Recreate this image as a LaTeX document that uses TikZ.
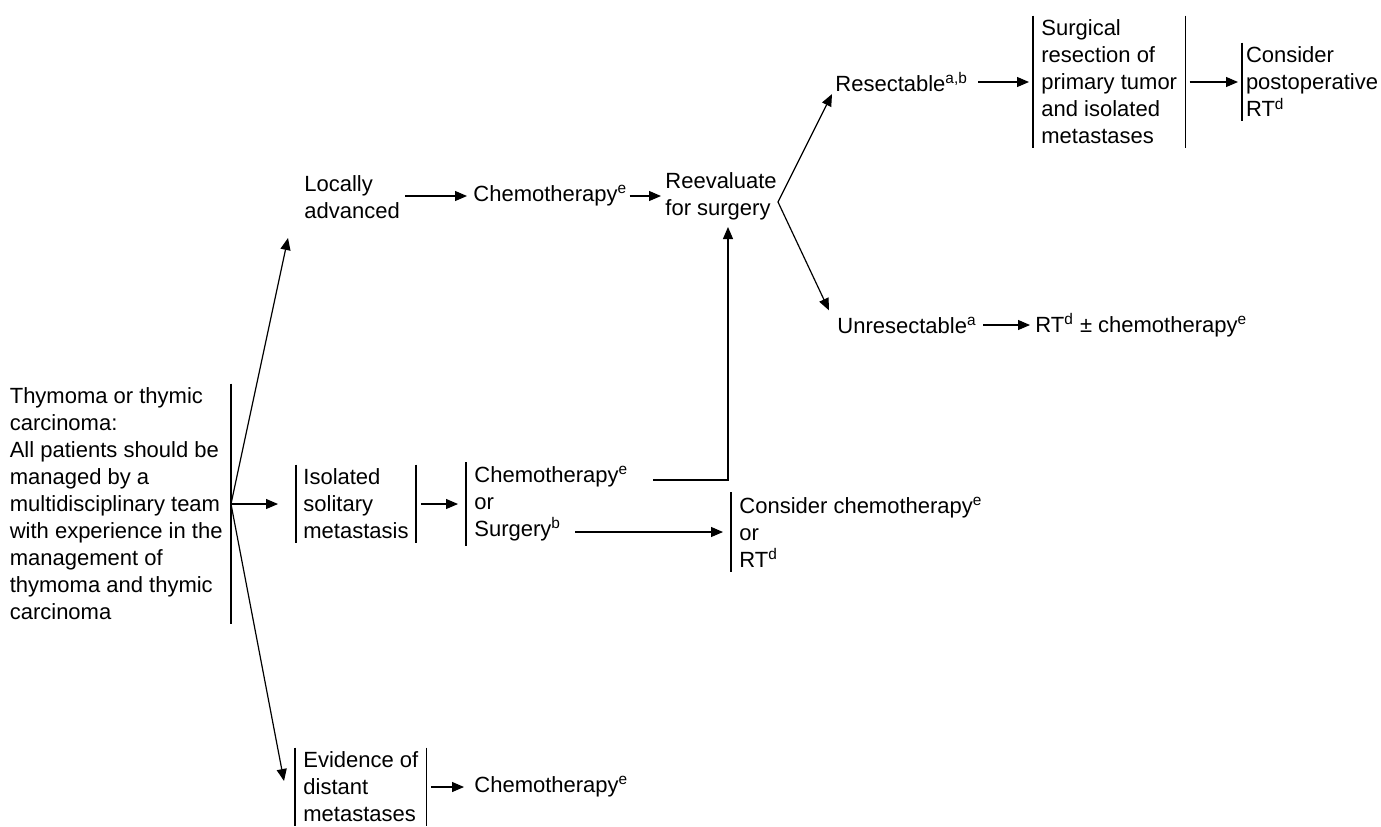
\documentclass[tikz,border=0pt]{standalone}
\usepackage{fontspec}
\setmainfont{Liberation Sans}
\usetikzlibrary{arrows.meta,positioning,calc}

\begin{document}
\begin{tikzpicture}[
    x=0.5pt, y=-0.5pt,
    every node/.style={font=\fontsize{11pt}{13.5pt}\selectfont},
    txt/.style={align=left, inner sep=0pt, anchor=west},
    barbox/.style={align=left, inner xsep=4pt, inner ysep=2pt},
    bar/.style={line width=0.6pt},
    arrow/.style={-{Triangle[length=6pt,width=5pt]}, line width=0.6pt}
]
\useasboundingbox (0,0) rectangle (1381,826);

% Start
\node[barbox, anchor=east] (root) at (231,504) {Thymoma or thymic\\carcinoma:\\All patients should be\\managed by a\\multidisciplinary team\\with experience in the\\management of\\thymoma and thymic\\carcinoma};
\draw[bar] (root.north east) -- (root.south east);

% Locally advanced branch
\node[txt] (locally) at (304,197) {Locally\\advanced};
\node[txt] (chemoA) at (473,196) {Chemotherapy\textsuperscript{e}};
\node[txt] (reeval) at (665,196) {Reevaluate\\for surgery};
\node[txt] (resect) at (835,82) {Resectable\textsuperscript{a,b}};
\node[barbox, anchor=west] (surg) at (1033,82) {Surgical\\resection of\\primary tumor\\and isolated\\metastases};
\draw[bar] (surg.north west) -- (surg.south west) (surg.north east) -- (surg.south east);
\node[barbox, anchor=west, inner xsep=1.8pt] (postop) at (1242,82) {Consider\\postoperative\\RT\textsuperscript{d}};
\draw[bar] (postop.north west) -- (postop.south west);
\node[txt] (unres) at (837,325) {Unresectable\textsuperscript{a}};
\node[txt] (rtchemo) at (1035,325) {RT\textsuperscript{d} ± chemotherapy\textsuperscript{e}};

% Isolated metastasis branch
\node[barbox, anchor=west, inner xsep=3.5pt] (isol) at (296,504) {Isolated\\solitary\\metastasis};
\draw[bar] (isol.north west) -- (isol.south west) (isol.north east) -- (isol.south east);
\node[barbox, anchor=west] (chemosurg) at (466,504) {Chemotherapy\textsuperscript{e}\\or\\Surgery\textsuperscript{b}};
\draw[bar] (chemosurg.north west) -- (chemosurg.south west);
\node[barbox, anchor=west] (consider) at (731,532) {Consider chemotherapy\textsuperscript{e}\\or\\RT\textsuperscript{d}};
\draw[bar] (consider.north west) -- (consider.south west);

% Distant metastases branch
\node[barbox, anchor=west] (distant) at (295,787) {Evidence of\\distant\\metastases};
\draw[bar] (distant.north west) -- (distant.south west) (distant.north east) -- (distant.south east);
\node[txt] (chemoB) at (474,787) {Chemotherapy\textsuperscript{e}};

% Free ends
\coordinate (upTip) at (288,238);
\coordinate (downTip) at (284,781);
\coordinate (csOut) at (653,480);
\coordinate (revIn) at (728,227);
\coordinate (sgOut) at (575,532);
\coordinate (fork) at (778,202);

% Arrows
\draw[arrow] (root.east) -- (upTip);
\draw[arrow] (root.east) -- ([xshift=-9pt]isol.west);
\draw[arrow] (root.east) -- (downTip);
\draw[arrow] ([xshift=2.5pt]locally.east |- chemoA.west) -- ([xshift=-3pt]chemoA.west);
\draw[arrow] ([xshift=1pt]chemoA.east) -- ([xshift=-2pt]chemoA.east -| reeval.west);
\draw[arrow] (fork) -- ([xshift=-1.5pt,yshift=-1pt]resect.south west);
\draw[arrow] (fork) -- ([xshift=-4pt,yshift=3pt]unres.north west);
\draw[arrow] ([xshift=5pt]resect.east) -- ([xshift=-2pt]surg.west);
\draw[arrow] ([xshift=2pt]surg.east) -- ([xshift=-2pt]postop.west);
\draw[arrow] ([xshift=3pt]unres.east) -- ([xshift=-2.5pt]rtchemo.west);
\draw[arrow] ([xshift=2.5pt]isol.east) -- ([xshift=-4pt]chemosurg.west);
\draw[arrow] (csOut) -| (revIn);
\draw[arrow] (sgOut) -- ([xshift=-4pt]sgOut -| consider.west);
\draw[arrow] ([xshift=2pt]distant.east) -- ([xshift=-5pt]chemoB.west);

\end{tikzpicture}
\end{document}
